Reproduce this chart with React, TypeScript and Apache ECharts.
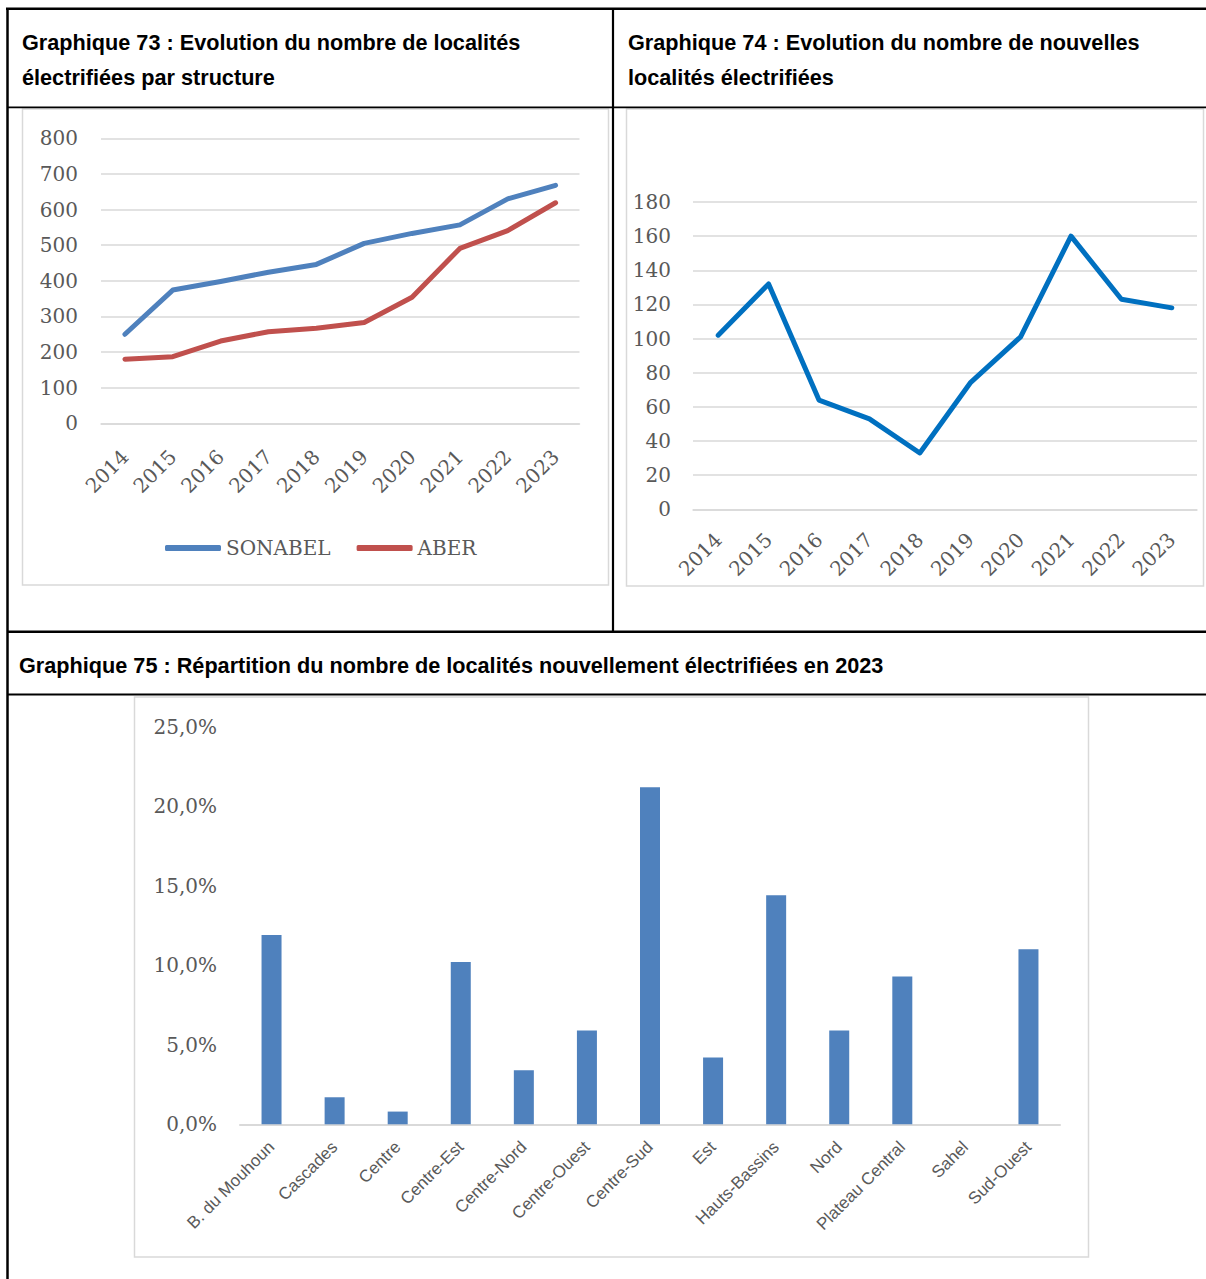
import React, { useEffect, useRef } from "react";
import * as echarts from "echarts";

const years = ["2014", "2015", "2016", "2017", "2018", "2019", "2020", "2021", "2022", "2023"];
const sonabel = [250, 374, 398, 424, 446, 505, 533, 557, 630, 668];
const aber = [180, 187, 231, 257, 267, 283, 354, 491, 541, 619];
const nouvelles = [102, 132, 64, 53, 33, 74, 101, 160, 123, 118];
const regions = [
  "B. du Mouhoun", "Cascades", "Centre", "Centre-Est", "Centre-Nord", "Centre-Ouest",
  "Centre-Sud", "Est", "Hauts-Bassins", "Nord", "Plateau Central", "Sahel", "Sud-Ouest",
];
const partPct = [11.9, 1.7, 0.8, 10.2, 3.4, 5.9, 21.2, 4.2, 14.4, 5.9, 9.3, 0, 11.0];

const title73 = ["Graphique 73 : Evolution du nombre de localités", "électrifiées par structure"];
const title74 = ["Graphique 74 : Evolution du nombre de nouvelles", "localités électrifiées"];
const title75 = "Graphique 75 : Répartition du nombre de localités nouvellement électrifiées en 2023";

const SERIF = "DejaVu Serif";
const SANS = "Liberation Sans";
const GRAY = "#595959";
const GRID = "#D9D9D9";

export default function App() {
  const ref = useRef<HTMLDivElement>(null);
  useEffect(() => {
    if (!ref.current) return;
    const chart = echarts.init(ref.current, undefined, { renderer: "svg" });
    const titleStyle = { fill: "#000", font: `bold 22px '${SANS}'`, textVerticalAlign: "middle" };
    const hline = (x1: number, x2: number, y: number, w: number) => ({
      type: "line", shape: { x1, y1: y, x2, y2: y }, style: { stroke: "#000", lineWidth: w }, silent: true,
    });
    const vline = (x: number, y1: number, y2: number, w: number) => ({
      type: "line", shape: { x1: x, y1, x2: x, y2 }, style: { stroke: "#000", lineWidth: w }, silent: true,
    });
    const frame = (x: number, y: number, width: number, height: number) => ({
      type: "rect", shape: { x, y, width, height }, style: { fill: "none", stroke: GRID, lineWidth: 1.5 }, silent: true,
    });
    const titleText = (x: number, y: number, text: string) => ({
      type: "text", x, y, scaleX: 0.985, style: { ...titleStyle, text }, silent: true,
    });
    const serifLabel = { fontFamily: SERIF, fontSize: 20, color: GRAY };
    const yBase = {
      type: "value",
      min: 0,
      axisLine: { show: false },
      axisTick: { show: false },
      splitLine: { lineStyle: { color: GRID, width: 1.5 } },
    };
    chart.setOption({
      animation: false,
      backgroundColor: "#fff",
      legend: {
        data: [
          { name: "SONABEL", icon: "roundRect" },
          { name: "ABER", icon: "roundRect" },
        ],
        left: 160,
        top: 533,
        itemWidth: 56,
        itemHeight: 6,
        itemGap: 26,
        textStyle: { fontFamily: SERIF, fontSize: 20, color: GRAY },
      },
      grid: [
        { left: 101, top: 138.3, width: 478.5, height: 285, containLabel: false },
        { left: 693, top: 202, width: 504, height: 307.3, containLabel: false },
        { left: 240, top: 726.7, width: 820, height: 397.6, containLabel: false },
      ],
      xAxis: [
        {
          gridIndex: 0, type: "category", data: years, boundaryGap: true,
          axisLine: { lineStyle: { color: GRID, width: 1.5 } }, axisTick: { show: false },
          axisLabel: { ...serifLabel, rotate: 45, margin: 30, interval: 0 },
        },
        {
          gridIndex: 1, type: "category", data: years, boundaryGap: true,
          axisLine: { lineStyle: { color: GRID, width: 1.5 } }, axisTick: { show: false },
          axisLabel: { ...serifLabel, rotate: 45, margin: 27, interval: 0 },
        },
        {
          gridIndex: 2, type: "category", data: regions, boundaryGap: true,
          axisLine: { lineStyle: { color: GRID, width: 2 } }, axisTick: { show: false },
          axisLabel: { fontFamily: SANS, fontSize: 17, color: GRAY, rotate: 45, margin: 20, interval: 0 },
        },
      ],
      yAxis: [
        { ...yBase, gridIndex: 0, max: 800, interval: 100, axisLabel: { ...serifLabel, margin: 23 } },
        { ...yBase, gridIndex: 1, max: 180, interval: 20, axisLabel: { ...serifLabel, margin: 22 } },
        {
          ...yBase, gridIndex: 2, max: 25, interval: 5, splitLine: { show: false },
          axisLabel: {
            ...serifLabel, margin: 23,
            formatter: (v: number) => v.toFixed(1).replace(".", ",") + "%",
          },
        },
      ],
      series: [
        {
          name: "SONABEL", type: "line", xAxisIndex: 0, yAxisIndex: 0, data: sonabel,
          symbol: "none", color: "#4F81BD",
          lineStyle: { width: 5, color: "#4F81BD", cap: "round", join: "round" },
        },
        {
          name: "ABER", type: "line", xAxisIndex: 0, yAxisIndex: 0, data: aber,
          symbol: "none", color: "#C0504D",
          lineStyle: { width: 5, color: "#C0504D", cap: "round", join: "round" },
        },
        {
          name: "Nouvelles localités", type: "line", xAxisIndex: 1, yAxisIndex: 1, data: nouvelles,
          symbol: "none", color: "#0070C0",
          lineStyle: { width: 5, color: "#0070C0", cap: "round", join: "round" },
        },
        {
          name: "Part 2023", type: "bar", xAxisIndex: 2, yAxisIndex: 2, data: partPct,
          barWidth: 20, itemStyle: { color: "#4F81BD" },
        },
      ],
      graphic: [
        frame(22.5, 109, 586, 476),
        frame(626.5, 109, 577, 477),
        frame(134.5, 697, 954, 560),
        hline(6, 1206, 8.7, 2.5),
        vline(7.5, 8, 1279, 2.5),
        hline(8, 1206, 107.3, 1.8),
        vline(613, 8, 631, 2.2),
        hline(8, 1206, 631.8, 2.6),
        hline(8, 1206, 694.5, 2),
        titleText(22, 42.5, title73[0]),
        titleText(22, 77, title73[1]),
        titleText(628, 42.5, title74[0]),
        titleText(628, 77, title74[1]),
        titleText(19, 665, title75),
      ],
    });
    return () => chart.dispose();
  }, []);
  return (
    <div
      ref={ref}
      style={{ position: "absolute", left: 0, top: 0, width: 1206, height: 1279, background: "#fff" }}
    />
  );
}
